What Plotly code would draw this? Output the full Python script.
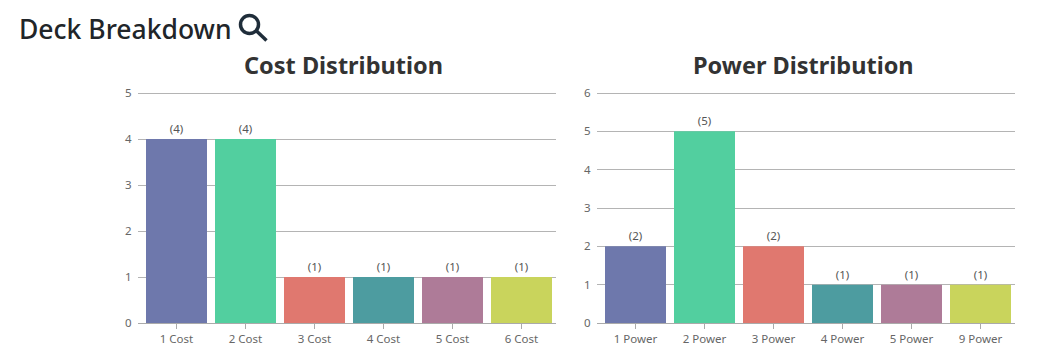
import plotly.graph_objects as go

W, H = 1049, 354
cost_categories = ["1 Cost", "2 Cost", "3 Cost", "4 Cost", "5 Cost", "6 Cost"]
cost_values = [4, 4, 1, 1, 1, 1]
power_categories = ["1 Power", "2 Power", "3 Power", "4 Power", "5 Power", "9 Power"]
power_values = [2, 5, 2, 1, 1, 1]
bar_colors = ["#6e78ac", "#52cf9f", "#e0786f", "#4d9ca0", "#ae7b98", "#c9d45c"]
FONT = "Noto Sans"

fig = go.Figure()
for cats, vals, ax in [(cost_categories, cost_values, ""), (power_categories, power_values, "2")]:
    fig.add_trace(go.Bar(
        x=cats, y=vals, xaxis="x" + ax, yaxis="y" + ax,
        marker=dict(color=bar_colors, line=dict(width=0)),
        text=[f"({v})" for v in vals], textposition="outside", cliponaxis=False,
        textfont=dict(family=FONT, size=11.5, color="#555"), showlegend=False,
    ))

def xaxis(l, r, anchor):
    return dict(domain=[l / W, r / W], anchor=anchor, type="category", showgrid=False,
                showline=False, zeroline=False, range=[-0.558, 5.5],
                ticks="outside", ticklen=5, tickcolor="#aaaaaa", tickwidth=1,
                tickfont=dict(family=FONT, size=11.5, color="#666"))

# The axis runs slightly past its top tick so that the top gridline is still drawn.
def yaxis(top, anchor):
    return dict(domain=[1 - 323 / H, 1 - 91 / H], anchor=anchor, range=[0, top * 232 / 230], dtick=1,
                showgrid=True, gridcolor="#b4b4b4", gridwidth=1, zeroline=True,
                zerolinecolor="#aaaaaa", zerolinewidth=1, showline=False,
                ticks="outside", ticklen=3, tickcolor="rgba(0,0,0,0)",
                tickfont=dict(family=FONT, size=11.5, color="#666"))

def label(txt, x, y, size, color, bold=False, anchor="center", weight=None):
    font = dict(family=FONT, size=size, color=color)
    if weight:
        font["weight"] = weight
    return dict(text=f"<b>{txt}</b>" if bold else txt, x=x / W, y=1 - y / H, xref="paper", yref="paper",
                showarrow=False, xanchor=anchor, yanchor="middle", font=font)

icon = "#1f2d3a"
fig.update_layout(
    width=W, height=H, margin=dict(l=0, r=0, t=0, b=0, pad=0, autoexpand=False), autosize=False,
    paper_bgcolor="white", plot_bgcolor="white", bargap=0.116,
    xaxis=xaxis(138, 556, "y"), yaxis=yaxis(5, "x"),
    xaxis2=xaxis(597, 1015, "y2"), yaxis2=yaxis(6, "x2"),
    annotations=[
        label("Deck Breakdown", 17, 29, 26.5, "#212529", anchor="left", weight=500),
        label("Cost Distribution", 344, 65, 23.5, "#333333", True),
        label("Power Distribution", 803, 65, 23.5, "#333333", True),
    ],
    shapes=[
        dict(type="circle", xref="paper", yref="paper", x0=240.5 / W, x1=258.5 / W,
             y0=1 - 33.5 / H, y1=1 - 15.5 / H, line=dict(color=icon, width=3.5)),
        dict(type="line", xref="paper", yref="paper", x0=255.5 / W, x1=266.5 / W,
             y0=1 - 30 / H, y1=1 - 40.5 / H, line=dict(color=icon, width=3.5)),
    ],
)
fig.write_html("out.html", config=dict(displayModeBar=False),
               post_script="document.body.style.margin='0';document.body.style.overflow='hidden';")
